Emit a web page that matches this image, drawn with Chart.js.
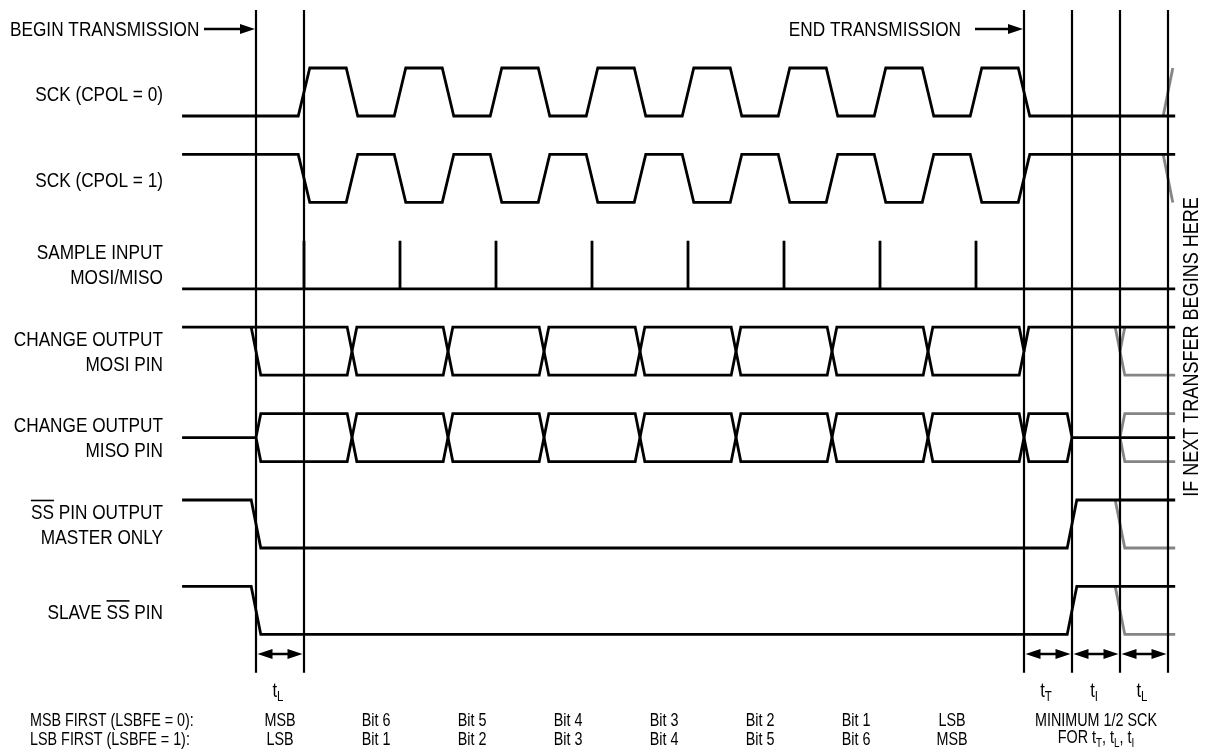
<!DOCTYPE html>
<html>
<head>
<meta charset="utf-8">
<script src="https://cdn.jsdelivr.net/npm/chart.js@4.4.0/dist/chart.umd.min.js"></script>
<style>
  html, body { margin: 0; padding: 0; background: #fff; }
  #wrap { width: 1213px; height: 756px; }
</style>
</head>
<body>
<div id="wrap"><canvas id="timing" width="1213" height="756"></canvas></div>
<script>
// row names, {..} = overlined
const signalLabels = [
  ["SCK (CPOL = 0)"],
  ["SCK (CPOL = 1)"],
  ["SAMPLE INPUT", "MOSI/MISO"],
  ["CHANGE OUTPUT", "MOSI PIN"],
  ["CHANGE OUTPUT", "MISO PIN"],
  ["{SS} PIN OUTPUT", "MASTER ONLY"],
  ["SLAVE {SS} PIN"]
];

// all times in half SCK periods, 0 = begin transmission
const sckEdges = [1, 2, 3, 4, 5, 6, 7, 8, 9, 10, 11, 12, 13, 14, 15, 16];
const sampleTimes = [1, 3, 5, 7, 9, 11, 13, 15];
const dataChanges = [0, 2, 4, 6, 8, 10, 12, 14, 16];
const ssFall = 0;
const ssRise = 17;
const nextStart = 18;
const nextSck = 19;
const markerTimes = [0, 1, 16, 17, 18, 19];

const bitSlots = [0.5, 2.5, 4.5, 6.5, 8.5, 10.5, 12.5, 14.5];
const msbFirstBits = ["MSB", "Bit 6", "Bit 5", "Bit 4", "Bit 3", "Bit 2", "Bit 1", "LSB"];
const lsbFirstBits = ["LSB", "Bit 1", "Bit 2", "Bit 3", "Bit 4", "Bit 5", "Bit 6", "MSB"];

const intervalFrom = [0, 16, 17, 18];
const intervalTo = [1, 17, 18, 19];
const intervalSub = ["L", "T", "I", "L"];

// layout
const W = 1213, H = 756;
const PX = 48;            // pixels per half period / per logic swing
const ORIGIN_X = 256, ORIGIN_Y = 68;
const ROW_PITCH = 1.8;
const EDGE = 0.12, BUS = 0.1;
const T_START = -1.54, T_END = 19.15;
const MARK_TOP = -1.21, MARK_BOTTOM = 12.6;
const FONT = '"Liberation Sans", Arial, sans-serif';
const SQUEEZE = 0.82;     // narrow face look
const GREY = "#858585";

const hi = r => r * ROW_PITCH;
const lo = r => r * ROW_PITCH + 1;
const mid = r => r * ROW_PITCH + 0.5;

const black = [], grey = [];
function line(list, pts, width) {
  list.push({ data: pts.map(p => ({ x: p[0], y: p[1] })), width: width || 2.8 });
}

// clocks
function clock(row, startHigh) {
  let level = startHigh;
  const lv = () => level ? hi(row) : lo(row);
  const pts = [[T_START, lv()]];
  sckEdges.forEach(e => {
    pts.push([e - EDGE, lv()]);
    level = !level;
    pts.push([e + EDGE, lv()]);
  });
  pts.push([T_END, lv()]);
  line(black, pts);
  line(grey, [[nextSck - BUS, lv()], [nextSck + BUS, level ? lo(row) : hi(row)]]);
}
clock(0, false);
clock(1, true);

// sample strobes
line(black, [[T_START, lo(2)], [T_END, lo(2)]]);
sampleTimes.forEach(s => line(black, [[s, hi(2)], [s, lo(2)]], 2.8));

// data bus cell (eye)
function cell(row, a, b) {
  line(black, [[a, mid(row)], [a + BUS, hi(row)], [b - BUS, hi(row)], [b, mid(row)],
               [b - BUS, lo(row)], [a + BUS, lo(row)], [a, mid(row)]]);
}
const lastChange = dataChanges[dataChanges.length - 1];

// MOSI
line(black, [[T_START, hi(3)], [dataChanges[1] - BUS, hi(3)], [dataChanges[1], mid(3)]]);
line(black, [[dataChanges[0] - BUS, hi(3)], [dataChanges[0] + BUS, lo(3)], [dataChanges[1] - BUS, lo(3)], [dataChanges[1], mid(3)]]);
for (let k = 1; k < dataChanges.length - 1; k++) cell(3, dataChanges[k], dataChanges[k + 1]);
line(black, [[lastChange, mid(3)], [lastChange + BUS, hi(3)], [T_END, hi(3)]]);
line(grey, [[nextStart - BUS, hi(3)], [nextStart + BUS, lo(3)], [T_END, lo(3)]]);
line(grey, [[nextStart + BUS, hi(3)], [nextStart, mid(3)]]);

// MISO
line(black, [[T_START, mid(4)], [dataChanges[0], mid(4)]]);
for (let k = 0; k < dataChanges.length - 1; k++) cell(4, dataChanges[k], dataChanges[k + 1]);
cell(4, lastChange, ssRise);
line(black, [[ssRise, mid(4)], [T_END, mid(4)]]);
line(grey, [[nextStart, mid(4)], [nextStart + BUS, hi(4)], [T_END, hi(4)]]);
line(grey, [[nextStart, mid(4)], [nextStart + BUS, lo(4)], [T_END, lo(4)]]);

// slave selects
[5, 6].forEach(r => {
  line(black, [[T_START, hi(r)], [ssFall - BUS, hi(r)], [ssFall + BUS, lo(r)],
               [ssRise - BUS, lo(r)], [ssRise + BUS, hi(r)], [T_END, hi(r)]]);
  line(grey, [[nextStart - BUS, hi(r)], [nextStart + BUS, lo(r)], [T_END, lo(r)]]);
});

// timing markers
markerTimes.forEach(t => line(black, [[t, MARK_TOP], [t, MARK_BOTTOM]], 2.2));

const datasets = black.map(s => ({
  data: s.data, borderColor: "#000", borderWidth: s.width, order: 0
})).concat(grey.map(s => ({
  data: s.data, borderColor: GREY, borderWidth: 2.8, order: 1
}))).map(d => Object.assign(d, {
  showLine: true, pointRadius: 0, fill: false, tension: 0,
  borderJoinStyle: "miter", borderCapStyle: "butt"
}));

// draws squeezed text, cy = visual middle of capitals; returns width
function text(ctx, s, x, cy, align, size) {
  ctx.font = size + "px " + FONT;
  const w = ctx.measureText(s).width * SQUEEZE;
  const x0 = align === "center" ? x - w / 2 : align === "right" ? x - w : x;
  ctx.save();
  ctx.translate(x0, cy + size * 0.358);
  ctx.scale(SQUEEZE, 1);
  ctx.textAlign = "left";
  ctx.textBaseline = "alphabetic";
  ctx.fillText(s, 0, 0);
  ctx.restore();
  return w;
}
function measure(ctx, s, size) {
  ctx.font = size + "px " + FONT;
  return ctx.measureText(s).width * SQUEEZE;
}

// parts = [[text, isSub], ...]
function drawRich(ctx, parts, x, cy, align, size) {
  const subSize = Math.round(size * 0.7);
  let total = 0;
  parts.forEach(p => { total += measure(ctx, p[0], p[1] ? subSize : size); });
  let cx = align === "center" ? x - total / 2 : align === "right" ? x - total : x;
  parts.forEach(p => {
    cx += text(ctx, p[0], cx, p[1] ? cy + 6 : cy, "left", p[1] ? subSize : size);
  });
}

function arrowHead(ctx, tipX, y, dir) {
  ctx.beginPath();
  ctx.moveTo(tipX, y);
  ctx.lineTo(tipX - dir * 15, y - 5);
  ctx.lineTo(tipX - dir * 15, y + 5);
  ctx.closePath();
  ctx.fill();
}

const labelPlugin = {
  id: "timingText",
  afterDraw(chart) {
    const ctx = chart.ctx;
    const X = v => chart.scales.x.getPixelForValue(v);
    const Y = v => chart.scales.y.getPixelForValue(v);
    const size = 21, small = 17.5;
    ctx.save();
    ctx.fillStyle = "#000";
    ctx.strokeStyle = "#000";

    // begin / end arrows
    text(ctx, "BEGIN TRANSMISSION", 10, 28, "left", size);
    text(ctx, "END TRANSMISSION", 961, 28, "right", size);
    ctx.lineWidth = 2.5;
    [[204, X(markerTimes[0])], [975, X(lastChange)]].forEach(a => {
      ctx.beginPath(); ctx.moveTo(a[0], 29); ctx.lineTo(a[1] - 10, 29); ctx.stroke();
      arrowHead(ctx, a[1] - 1, 29, 1);
    });

    // row labels
    signalLabels.forEach((lines, r) => {
      const cy = Y(mid(r));
      lines.forEach((txt, i) => {
        const yy = lines.length === 1 ? cy + 1 : cy + (i === 0 ? -13 : 12);
        const plain = txt.replace(/[{}]/g, "");
        const full = text(ctx, plain, 163, yy, "right", size);
        const m = txt.match(/\{(.*?)\}/);
        if (m) {
          const pre = measure(ctx, txt.slice(0, m.index), size);
          const w = measure(ctx, m[1], size);
          const x0 = 163 - full + pre;
          ctx.lineWidth = 1.6;
          ctx.beginPath(); ctx.moveTo(x0, yy - 10.5); ctx.lineTo(x0 + w, yy - 10.5); ctx.stroke();
        }
      });
    });

    // interval dimensions
    const dimY = 654;
    ctx.lineWidth = 2.5;
    intervalFrom.forEach((a, i) => {
      const x1 = X(a), x2 = X(intervalTo[i]);
      ctx.beginPath(); ctx.moveTo(x1 + 8, dimY); ctx.lineTo(x2 - 8, dimY); ctx.stroke();
      arrowHead(ctx, x1 + 1.5, dimY, -1);
      arrowHead(ctx, x2 - 1.5, dimY, 1);
      drawRich(ctx, [["t", false], [intervalSub[i], true]], (x1 + x2) / 2 - 2, 690, "center", 20);
    });

    // bit order rows
    text(ctx, "MSB FIRST (LSBFE = 0):", 30, 720, "left", small);
    text(ctx, "LSB FIRST (LSBFE = 1):", 30, 739, "left", small);
    bitSlots.forEach((t, i) => {
      text(ctx, msbFirstBits[i], X(t), 720, "center", small);
      text(ctx, lsbFirstBits[i], X(t), 739, "center", small);
    });
    const noteX = X((intervalFrom[1] + intervalTo[3]) / 2);
    text(ctx, "MINIMUM 1/2 SCK", noteX, 720, "center", small);
    drawRich(ctx, [["FOR t", false], ["T", true], [", t", false], ["L", true], [", t", false], ["I", true]],
      noteX, 737, "center", small);

    // vertical note
    ctx.translate(1190, 347);
    ctx.rotate(-Math.PI / 2);
    text(ctx, "IF NEXT TRANSFER BEGINS HERE", 0, 0, "center", 22);
    ctx.restore();
  }
};

new Chart(document.getElementById("timing"), {
  type: "scatter",
  data: { datasets: datasets },
  options: {
    responsive: false,
    animation: false,
    events: [],
    layout: { padding: 0 },
    plugins: { legend: { display: false }, tooltip: { enabled: false } },
    scales: {
      x: { type: "linear", display: false, min: -ORIGIN_X / PX, max: (W - ORIGIN_X) / PX },
      y: { type: "linear", display: false, reverse: true, min: -ORIGIN_Y / PX, max: (H - ORIGIN_Y) / PX }
    }
  },
  plugins: [labelPlugin]
});
</script>
</body>
</html>
